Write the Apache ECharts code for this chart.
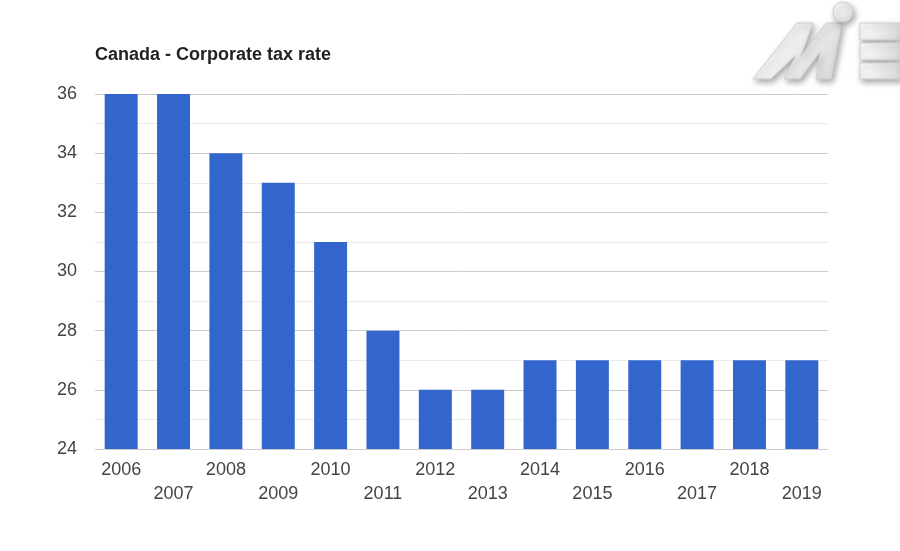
<!DOCTYPE html>
<html><head><meta charset="utf-8">
<script src="https://cdn.jsdelivr.net/npm/echarts@6/dist/echarts.min.js"></script>
<style>html,body{margin:0;padding:0;background:#fff}#c{width:900px;height:551px}</style>
</head><body><div id="c"></div>
<script>
const years = ['2006','2007','2008','2009','2010','2011','2012','2013','2014','2015','2016','2017','2018','2019'];
const taxRate = [36,36,34,33,31,28,26,26,27,27,27,27,27,27];
const yTicks = [24,26,28,30,32,34,36];

const chart = echarts.init(document.getElementById('c'), null, {renderer:'canvas'});
const logoFill = new echarts.graphic.LinearGradient(0,0,1,1,[{offset:0,color:'#ffffff'},{offset:1,color:'#d8d8d8'}]);
const logoStyle = {fill: logoFill, stroke:'#cfcfcf', lineWidth:1, shadowBlur:6, shadowColor:'rgba(0,0,0,0.35)', shadowOffsetX:2, shadowOffsetY:3};
chart.setOption({
  animation:false,
  title:{text:'Canada - Corporate tax rate', left:90, top:41,
    textStyle:{fontFamily:'Arial', fontSize:18, fontWeight:'bold', color:'#222'}},
  grid:{left:95, right:72, top:94, bottom:102, containLabel:false},
  xAxis:{type:'category', data:years,
    axisLine:{lineStyle:{color:'#ccc'}}, axisTick:{show:false},
    axisLabel:{interval:0, margin:9, lineHeight:24, fontFamily:'Arial', fontSize:18, color:'#444',
      formatter:(v,i)=> i%2 ? '\n'+v : v}},
  yAxis:{type:'value', min:24, max:36, interval:2,
    axisLine:{show:false}, axisTick:{show:false},
    axisLabel:{margin:18, fontFamily:'Arial', fontSize:18, color:'#444',
      formatter:(v)=> yTicks.indexOf(v) >= 0 ? String(v) : ''},
    splitLine:{lineStyle:{color:'#ccc'}},
    minorTick:{show:false, splitNumber:2},
    minorSplitLine:{show:true, lineStyle:{color:'#ebebeb'}}},
  series:[{type:'bar', data:taxRate, barWidth:'63%', itemStyle:{color:'#3366cc'}}],
  graphic:[
    {type:'polygon', shape:{points:[[753,79],[797,23],[813,23],[801,56],[826,23],[842,23],[831,79],[816,79],[820,52],[800,79],[784,79],[796,55],[771,79]]}, style:logoStyle},
    {type:'circle', shape:{cx:843, cy:12, r:10}, style:logoStyle},
    {type:'rect', shape:{x:860, y:23, width:40, height:17}, style:logoStyle},
    {type:'rect', shape:{x:860, y:43, width:40, height:17}, style:logoStyle},
    {type:'rect', shape:{x:860, y:63, width:40, height:16}, style:logoStyle}
  ]
});
</script></body></html>
